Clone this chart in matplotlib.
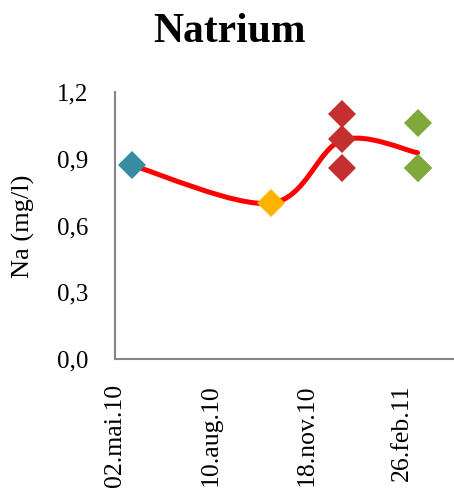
import matplotlib
matplotlib.use("Agg")
import matplotlib.pyplot as plt
import matplotlib.dates as mdates
import numpy as np
import datetime as dt
from matplotlib.path import Path
from matplotlib.patches import PathPatch

plt.rcParams['font.family'] = ['Liberation Serif', 'DejaVu Serif']

# Data
title = "Natrium"
ylabel = "Na (mg/l)"
blue_dates = [dt.date(2010, 5, 20)]
blue_vals = [0.87]
yellow_dates = [dt.date(2010, 10, 12)]
yellow_vals = [0.70]
red_dates = [dt.date(2010, 12, 25)] * 3
red_vals = [1.10, 0.99, 0.86]
green_dates = [dt.date(2011, 3, 14)] * 3
green_vals = [1.06, 0.86, 0.86]
line_dates = [dt.date(2010, 5, 20), dt.date(2010, 10, 12), dt.date(2010, 12, 25), dt.date(2011, 3, 14)]
line_vals = [0.87, 0.70, 0.983, 0.927]
tick_dates = [dt.date(2010, 5, 2), dt.date(2010, 8, 10), dt.date(2010, 11, 18), dt.date(2011, 2, 26)]
tick_labels = ["02.mai.10", "10.aug.10", "18.nov.10", "26.feb.11"]
yticks = [0.0, 0.3, 0.6, 0.9, 1.2]
ytick_labels = ["0,0", "0,3", "0,6", "0,9", "1,2"]

W, H = 454, 490
fig = plt.figure(figsize=(W / 100, H / 100), dpi=100)
ax = fig.add_axes([115 / W, 1 - 359 / H, 338 / W, 267 / H])

x0 = mdates.date2num(dt.date(2010, 5, 2))
ax.set_xlim(x0, x0 + 353)
ax.set_ylim(0, 1.2)

# Smoothed line (Excel-like Bezier smoothing computed in pixel space)
lx = mdates.date2num(line_dates)
pts = ax.transData.transform(np.column_stack([lx, line_vals]))
n = len(pts)
verts = [pts[0]]
codes = [Path.MOVETO]
for i in range(n - 1):
    p0 = pts[i - 1] if i > 0 else pts[i]
    p1 = pts[i]
    p2 = pts[i + 1]
    p3 = pts[i + 2] if i + 2 < n else pts[i + 1]
    c1 = p1 + (p2 - p0) / 6.0
    c2 = p2 - (p3 - p1) / 6.0
    verts += [c1, c2, p2]
    codes += [Path.CURVE4] * 3
verts_data = ax.transData.inverted().transform(np.array(verts))
patch = PathPatch(Path(verts_data, codes), facecolor='none', edgecolor='#FF0000',
                  linewidth=3.6, capstyle='round', joinstyle='round', zorder=2)
ax.add_patch(patch)

mk = dict(marker='D', markersize=14.5, linestyle='none', markeredgewidth=0, zorder=3)
ax.plot(mdates.date2num(blue_dates), blue_vals, color='#378CA2', **mk)
ax.plot(mdates.date2num(yellow_dates), yellow_vals, color='#FFB300', **mk)
ax.plot(mdates.date2num(red_dates), red_vals, color='#C3302F', **mk)
ax.plot(mdates.date2num(green_dates), green_vals, color='#7FA93A', **mk)

ax.set_xticks(mdates.date2num(tick_dates))
ax.set_xticklabels(tick_labels, rotation=90, fontsize=18.5)
ax.set_yticks(yticks)
ax.set_yticklabels(ytick_labels, fontsize=18)
ax.tick_params(axis='x', length=0, pad=18)
ax.tick_params(axis='y', length=0, pad=19)

for s in ['top', 'right']:
    ax.spines[s].set_visible(False)
for s in ['left', 'bottom']:
    ax.spines[s].set_color('#868686')
    ax.spines[s].set_linewidth(1.5)

fig.text(23 / W, 1 - 226 / H, ylabel, rotation=90, fontsize=19, ha='center', va='center')
fig.text(230 / W, 1 - 32 / H, title, fontsize=30, fontweight='bold', ha='center', va='center')

fig.savefig("out.png", dpi=100)
